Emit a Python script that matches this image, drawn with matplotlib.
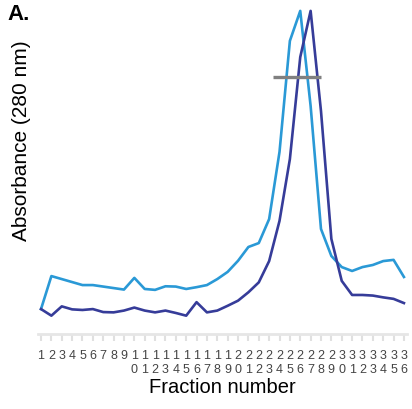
import numpy as np
import matplotlib
matplotlib.use("Agg")
import matplotlib.pyplot as plt

plt.rcParams["font.family"] = ["Liberation Sans", "DejaVu Sans"]

# fraction numbers and absorbance (arbitrary units)
fractions = np.arange(1, 37)
abs_light = [0.083, 0.193, 0.183, 0.173, 0.163, 0.163, 0.158, 0.153, 0.148, 0.187,
             0.150, 0.147, 0.159, 0.158, 0.150, 0.156, 0.163, 0.183, 0.207, 0.244,
             0.290, 0.303, 0.383, 0.607, 0.977, 1.077, 0.760, 0.350, 0.260, 0.223,
             0.210, 0.223, 0.230, 0.243, 0.247, 0.190]
abs_dark = [0.083, 0.061, 0.092, 0.082, 0.080, 0.083, 0.073, 0.072, 0.078, 0.088,
            0.078, 0.072, 0.078, 0.070, 0.061, 0.106, 0.072, 0.078, 0.094, 0.111,
            0.139, 0.172, 0.243, 0.377, 0.583, 0.923, 1.077, 0.743, 0.317, 0.177,
            0.130, 0.130, 0.128, 0.122, 0.117, 0.103]
bar_x = [23.4, 28.0]
bar_y = 0.858

tick_labels = [str(f) if f < 10 else f"{str(f)[0]}\n{str(f)[1]}" for f in fractions]

fig = plt.figure(figsize=(4.12, 4.10), dpi=100)
ax = fig.add_axes([0.092, 0.183, 0.896, 0.788])

ax.plot(fractions, abs_light, color="#2a99d6", lw=1.9, clip_on=False, zorder=3)
ax.plot(fractions, abs_dark, color="#363c99", lw=1.9, clip_on=False, zorder=3)
ax.plot(bar_x, [bar_y, bar_y], color="#808080", lw=2.4, solid_capstyle="butt", zorder=4)

ax.set_xlim(0.7, 36.3)
ax.set_ylim(0, 1.077)
ax.set_xticks(fractions)
ax.set_xticklabels(tick_labels, fontsize=9, color="#444444", linespacing=1.15)
ax.set_yticks([])
for s in ["top", "right", "left"]:
    ax.spines[s].set_visible(False)
ax.spines["bottom"].set_color("#e6e6e6")
ax.spines["bottom"].set_linewidth(2.0)
ax.tick_params(axis="x", length=5, width=1.5, color="#e0e0e0", pad=6)

fig.text(0.54, 0.054, "Fraction number", fontsize=14.5, ha="center", va="center")
fig.text(0.053, 0.656, "Absorbance (280 nm)", fontsize=15, rotation=90,
         ha="center", va="center")
fig.text(0.018, 0.99, "A.", fontsize=16, fontweight="bold", va="top", ha="left")

fig.savefig("out.png", dpi=100)
